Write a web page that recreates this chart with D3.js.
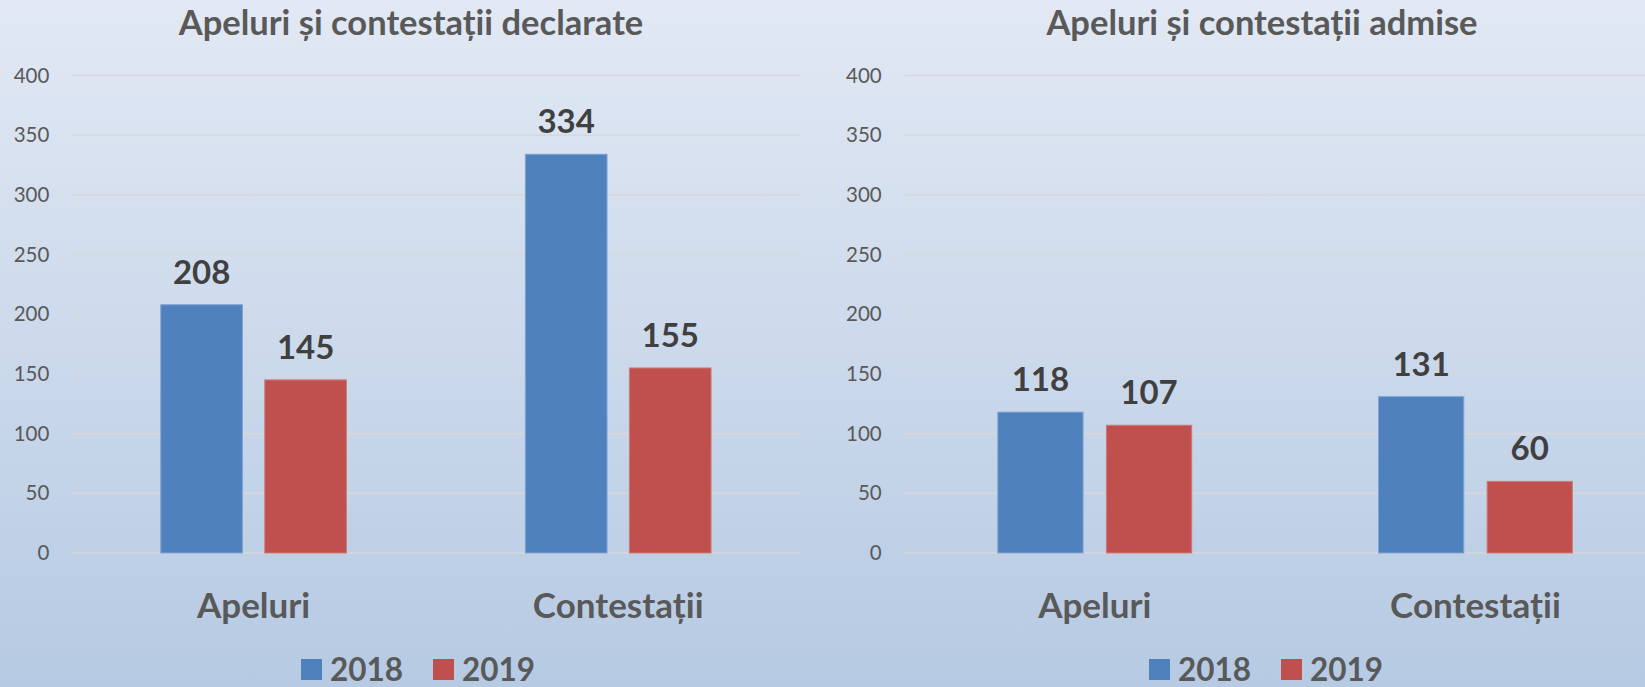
<!DOCTYPE html>
<html>
<head>
<meta charset="utf-8">
<script src="https://cdn.jsdelivr.net/npm/d3@7"></script>
<style>
  html, body { margin: 0; padding: 0; overflow: hidden; }
  svg { display: block; }
  text { font-family: Lato, "Open Sans", sans-serif; }
</style>
</head>
<body>
<svg id="chart" width="1645" height="687"></svg>
<script>
// ---- data ----
const categories = ["Apeluri", "Contestații"];
const years = ["2018", "2019"];
const declared2018 = [208, 334];
const declared2019 = [145, 155];
const admitted2018 = [118, 131];
const admitted2019 = [107, 60];
const yTicks = [0, 50, 100, 150, 200, 250, 300, 350, 400];
const titles = ["Apeluri și contestații declarate", "Apeluri și contestații admise"];
const colors = ["#4F81BD", "#C0504D"];
const strokes = ["#7FA3D3", "#CF7A77"];

const svg = d3.select("#chart");
const W = 1645, H = 687;

// background gradient
const defs = svg.append("defs");
const grad = defs.append("linearGradient").attr("id", "bg")
  .attr("x1", 0).attr("y1", 0).attr("x2", 0).attr("y2", 1);
grad.append("stop").attr("offset", "0%").attr("stop-color", "#E2E9F4");
grad.append("stop").attr("offset", "100%").attr("stop-color", "#B6CAE3");
svg.append("rect").attr("width", W).attr("height", H).attr("fill", "url(#bg)");

const y = d3.scaleLinear().domain([0, 400]).range([553, 75.5]);

const panels = [
  { title: titles[0], titleX: 411, xRange: [71.3, 800.5], labelX: 49.3,
    series: [declared2018, declared2019], legendX: 301 },
  { title: titles[1], titleX: 1262, xRange: [904.4, 1665.8], labelX: 881.7,
    series: [admitted2018, admitted2019], legendX: 1149 }
];

panels.forEach(p => {
  const g = svg.append("g");
  const x0 = d3.scaleBand().domain(categories).range(p.xRange).padding(0);
  const x1 = d3.scaleBand().domain(years).range([0, x0.bandwidth()])
    .paddingInner(0.215).paddingOuter(0.86);

  // title
  g.append("text").attr("x", p.titleX).attr("y", 35)
    .attr("text-anchor", "middle").attr("fill", "#595959")
    .attr("font-weight", "bold").attr("font-size", 34.5)
    .text(p.title);

  // gridlines
  const gridRight = Math.min(p.xRange[1], W);
  g.selectAll(".grid").data(yTicks).join("line")
    .attr("x1", p.xRange[0]).attr("x2", gridRight)
    .attr("y1", d => y(d)).attr("y2", d => y(d))
    .attr("stroke", "#D6D8DC").attr("stroke-width", 1.6);

  // y axis labels
  const yAxis = d3.axisLeft(y).tickValues(yTicks).tickSize(0).tickPadding(0);
  const ya = g.append("g").attr("transform", `translate(${p.labelX},0)`).call(yAxis);
  ya.select(".domain").remove();
  ya.selectAll("text").attr("font-size", 20.5).attr("fill", "#595959")
    .attr("font-family", "Lato, 'Open Sans', sans-serif");

  // bars
  categories.forEach((c, ci) => {
    years.forEach((yr, yi) => {
      const v = p.series[yi][ci];
      const bx = x0(c) + x1(yr);
      g.append("rect")
        .attr("x", bx).attr("y", y(v))
        .attr("width", x1.bandwidth()).attr("height", y(0) - y(v))
        .attr("fill", colors[yi]).attr("stroke", strokes[yi]).attr("stroke-width", 1);
      g.append("text")
        .attr("x", bx + x1.bandwidth() / 2).attr("y", y(v) - 21)
        .attr("text-anchor", "middle").attr("fill", "#404040")
        .attr("font-weight", "bold").attr("font-size", 33)
        .text(v);
    });
  });

  // category axis labels
  const xAxis = d3.axisBottom(x0).tickSize(0).tickPadding(0);
  const xa = g.append("g").attr("transform", "translate(0,593)").call(xAxis);
  xa.select(".domain").remove();
  xa.selectAll("text").attr("font-size", 35).attr("font-weight", "bold")
    .attr("fill", "#595959").attr("font-family", "Lato, 'Open Sans', sans-serif");

  // legend
  const lg = g.append("g").attr("transform", `translate(${p.legendX},0)`);
  years.forEach((yr, i) => {
    const off = i * 132;
    lg.append("rect").attr("x", off).attr("y", 659).attr("width", 21).attr("height", 21)
      .attr("fill", colors[i]);
    lg.append("text").attr("x", off + 29).attr("y", 681)
      .attr("fill", "#595959").attr("font-weight", "bold").attr("font-size", 31.5)
      .text(yr);
  });
});
</script>
</body>
</html>
